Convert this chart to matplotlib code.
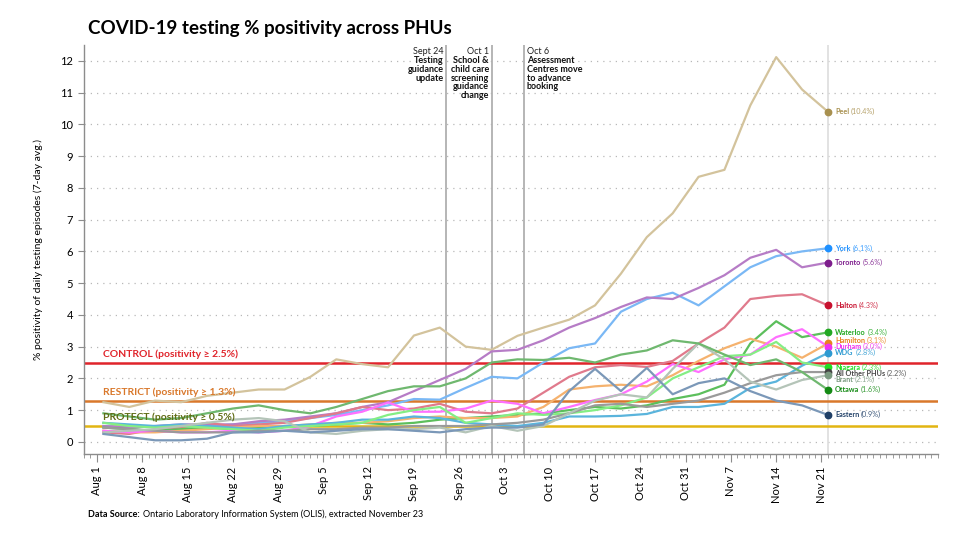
import numpy as np
import pandas as pd
import matplotlib
matplotlib.use('Agg')
import matplotlib.pyplot as plt
import matplotlib.dates as mdates

plt.rcParams['font.family'] = ['Lato', 'DejaVu Sans']

# dates (every 4 days, Aug 2 - Nov 22)
dates = pd.date_range('2020-08-02', '2020-11-22', freq='4D')

# 7-day avg % positivity
peel = [1.25, 1.1, 1.3, 1.25, 1.45, 1.55, 1.65, 1.65, 2.05, 2.6, 2.45, 2.35, 3.35, 3.6, 3.0,
        2.9, 3.34, 3.6, 3.85, 4.3, 5.3, 6.45, 7.2, 8.35, 8.57, 10.6, 12.12, 11.1, 10.4]
york = [0.5, 0.45, 0.5, 0.45, 0.5, 0.55, 0.6, 0.65, 0.75, 0.85, 1.0, 1.15, 1.35, 1.33, 1.7,
        2.05, 2.0, 2.5, 2.95, 3.1, 4.1, 4.5, 4.7, 4.3, 4.9, 5.5, 5.85, 6.0, 6.1]
toronto = [0.5, 0.45, 0.5, 0.55, 0.55, 0.55, 0.65, 0.7, 0.8, 0.9, 1.1, 1.25, 1.6, 1.95, 2.3,
           2.85, 2.9, 3.2, 3.6, 3.9, 4.25, 4.55, 4.5, 4.85, 5.25, 5.8, 6.05, 5.5, 5.65]
halton = [0.3, 0.25, 0.4, 0.45, 0.6, 0.5, 0.55, 0.6, 0.75, 0.9, 1.1, 1.0, 1.05, 1.2, 0.95,
          0.9, 1.05, 1.55, 2.05, 2.35, 2.42, 2.36, 2.55, 3.1, 3.6, 4.5, 4.6, 4.65, 4.3]
waterloo = [0.45, 0.4, 0.35, 0.4, 0.45, 0.4, 0.45, 0.5, 0.5, 0.55, 0.6, 0.55, 0.6, 0.7, 0.75,
            0.8, 0.85, 0.9, 1.0, 1.1, 1.05, 1.15, 1.35, 1.5, 1.8, 3.1, 3.8, 3.3, 3.45]
hamilton = [0.35, 0.3, 0.3, 0.35, 0.4, 0.45, 0.5, 0.5, 0.55, 0.6, 0.6, 0.65, 0.75, 0.8, 0.75,
            0.75, 0.8, 1.1, 1.65, 1.75, 1.8, 1.75, 2.1, 2.55, 2.95, 3.25, 3.0, 2.65, 3.1]
durham = [0.35, 0.3, 0.35, 0.3, 0.3, 0.35, 0.3, 0.35, 0.5, 0.8, 0.95, 1.24, 0.95, 0.95, 1.05,
          1.3, 1.2, 0.9, 1.1, 1.32, 1.5, 1.9, 2.45, 2.2, 2.6, 2.75, 3.3, 3.55, 3.0]
wdg = [0.6, 0.55, 0.5, 0.55, 0.5, 0.45, 0.4, 0.5, 0.55, 0.6, 0.7, 0.7, 0.8, 0.75, 0.6,
       0.55, 0.5, 0.6, 0.8, 0.8, 0.82, 0.88, 1.1, 1.1, 1.2, 1.7, 1.9, 2.4, 2.8]
niagara = [0.6, 0.5, 0.45, 0.5, 0.45, 0.4, 0.35, 0.45, 0.5, 0.55, 0.6, 0.85, 1.0, 1.1, 0.6,
           0.75, 0.9, 0.85, 0.9, 1.0, 1.15, 1.4, 2.0, 2.35, 2.7, 2.75, 3.15, 2.5, 2.35]
all_other = [0.45, 0.4, 0.35, 0.3, 0.3, 0.3, 0.35, 0.35, 0.4, 0.4, 0.45, 0.45, 0.5, 0.5, 0.5,
             0.55, 0.6, 0.7, 0.9, 1.15, 1.2, 1.1, 1.2, 1.3, 1.55, 1.85, 2.1, 2.2, 2.2]
brant = [0.3, 0.35, 0.4, 0.5, 0.6, 0.7, 0.75, 0.65, 0.3, 0.25, 0.35, 0.4, 0.4, 0.45, 0.3,
         0.5, 0.35, 0.5, 0.9, 1.3, 1.5, 1.4, 2.3, 3.1, 2.6, 1.9, 1.65, 1.95, 2.1]
ottawa = [0.9, 0.8, 0.7, 0.75, 0.9, 1.05, 1.15, 1.0, 0.9, 1.1, 1.35, 1.6, 1.75, 1.75, 2.0,
          2.5, 2.6, 2.58, 2.65, 2.5, 2.75, 2.88, 3.2, 3.1, 2.75, 2.42, 2.6, 2.2, 1.64]
eastern = [0.25, 0.15, 0.05, 0.05, 0.1, 0.3, 0.3, 0.35, 0.3, 0.35, 0.4, 0.4, 0.35, 0.3, 0.4,
           0.45, 0.45, 0.55, 1.6, 2.3, 1.6, 2.33, 1.5, 1.85, 2.0, 1.6, 1.3, 1.15, 0.85]

names = ['Peel', 'York', 'Toronto', 'Halton', 'Waterloo', 'Hamilton', 'Durham', 'WDG',
         'Niagara', 'All Other PHUs', 'Brant', 'Ottawa', 'Eastern']
series = [peel, york, toronto, halton, waterloo, hamilton, durham, wdg,
          niagara, all_other, brant, ottawa, eastern]
end_labels = ['10.4', '6.1', '5.6', '4.3', '3.4', '3.1', '3.0', '2.8', '2.3', '2.2', '2.1', '1.6', '0.9']

line_colors = ['#d3c39c', '#7ab8f5', '#b67cc6', '#e07a8c', '#5cbf5c', '#f5b26e', '#ff70ff',
               '#5ab4dc', '#84ee84', '#9a9a9a', '#b4c4b8', '#6fb86f', '#7b98b8']
dot_colors = ['#a8904f', '#1e90ff', '#7d1d8c', '#c8102e', '#22a822', '#e8821e', '#f030f0',
              '#2c9ad1', '#22dd22', '#444444', '#7a9a80', '#158a15', '#1f3f66']
# small vertical nudges so the end labels don't overlap
label_nudge = [0, 0, 0, 0, 0, 0.1, 0, 0.02, 0, -0.04, -0.14, 0, 0]

thresholds = [2.5, 1.3, 0.5]
threshold_text = ['CONTROL (positivity \u2265 2.5%)', 'RESTRICT (positivity \u2265 1.3%)',
                  'PROTECT (positivity \u2265 0.5%)']
threshold_colors = ['#e0242b', '#d9782b', '#e2b512']
threshold_text_colors = ['#e0242b', '#d9782b', '#5f6b14']

events = ['2020-09-24', '2020-10-01', '2020-10-06']
event_dates = ['Sept 24', 'Oct 1', 'Oct 6']
event_text = ['Testing\nguidance\nupdate', 'School &\nchild care\nscreening\nguidance\nchange',
              'Assessment\nCentres move\nto advance\nbooking']

fig = plt.figure(figsize=(9.6, 5.43), dpi=100)
ax = fig.add_axes([0.0875, 0.164, 0.8895, 0.753])

x0, x1 = pd.Timestamp('2020-07-30'), pd.Timestamp('2020-12-09')
ax.set_xlim(x0, x1)
ax.set_ylim(-0.38, 12.5)

for y in range(13):
    ax.axhline(y, color='#b8b8b8', lw=0.9, ls=(0, (1, 4)), zorder=0)

ax.axvline(dates[-1], color='#dddddd', lw=1.2, zorder=1)
for ev in events:
    ax.axvline(pd.Timestamp(ev), color='#b0b0b0', lw=1.3, zorder=1)

for yv, c in zip(thresholds, threshold_colors):
    ax.axhline(yv, color=c, lw=1.8, zorder=2)

for vals, c in zip(series, line_colors):
    ax.plot(dates, vals, color=c, lw=1.6, zorder=3)

for yv, t, c in zip(thresholds, threshold_text, threshold_text_colors):
    ax.text(pd.Timestamp('2020-08-02'), yv + 0.12, t, color=c, fontsize=7.5,
            fontweight='bold', va='bottom', ha='left', zorder=4)

for vals, dc in zip(series, dot_colors):
    ax.plot(dates[-1], vals[-1], 'o', color=dc, ms=4.6, zorder=5)

# end labels: bold name + value
name_texts = []
for vals, n, nudge, dc in zip(series, names, label_nudge, dot_colors):
    t = ax.annotate(n, xy=(dates[-1], vals[-1] + nudge), xytext=(5, 0), textcoords='offset points',
                    fontsize=5.2, fontweight='bold', color=dc, va='center', ha='left')
    name_texts.append(t)

# event annotations
top = 12.45
for ev, d, txt, i in zip(events, event_dates, event_text, range(3)):
    xd = pd.Timestamp(ev)
    if i < 2:
        ha, off = 'right', -2
    else:
        ha, off = 'left', 2
    ax.annotate(d, xy=(xd, top), xytext=(off, 0), textcoords='offset points',
                fontsize=6.5, ha=ha, va='top', color='#222222')
    ax.annotate(txt, xy=(xd, top), xytext=(off, -7), textcoords='offset points',
                fontsize=6.5, ha=ha, va='top', fontweight='bold', color='#111111',
                linespacing=0.95)

# axes styling
for s in ['top', 'right']:
    ax.spines[s].set_visible(False)
for s in ['left', 'bottom']:
    ax.spines[s].set_color('#8c8c8c')
    ax.spines[s].set_linewidth(1.0)

ax.set_yticks(range(13))
ax.tick_params(axis='y', labelsize=8, length=4, color='#8c8c8c', pad=4)
week_ticks = pd.date_range('2020-08-01', '2020-11-21', freq='7D')
ax.set_xticks(week_ticks)
ax.set_xticklabels([f'{d:%b} {d.day}' for d in week_ticks], rotation=90, fontsize=8)
ax.xaxis.set_minor_locator(mdates.DayLocator())
ax.tick_params(axis='x', which='major', length=6, color='#8c8c8c', pad=3)
ax.tick_params(axis='x', which='minor', length=3, color='#8c8c8c')

ax.set_ylabel('% positivity of daily testing episodes (7-day avg.)', fontsize=7.5, labelpad=12)

fig.text(0.0917, 0.948, 'COVID-19 testing % positivity across PHUs', fontsize=13.5,
         fontweight='bold', va='center', ha='left')

src = fig.text(0.0917, 0.053, 'Data Source:', fontsize=6.5, fontweight='bold', va='center')

fig.canvas.draw()
r = fig.canvas.get_renderer()
for t, vals, nudge, lab, dc in zip(name_texts, series, label_nudge, end_labels, dot_colors):
    bb = t.get_window_extent(r)
    fig.text(bb.x1 / fig.dpi / 9.6 + 0.002, (bb.y0 + bb.y1) / 2 / fig.dpi / 5.43, f'({lab}%)',
             fontsize=5.2, color=dc, alpha=0.85, va='center', ha='left')
bb = src.get_window_extent(r)
fig.text(bb.x1 / fig.dpi / 9.6 + 0.003, 0.053,
         'Ontario Laboratory Information System (OLIS), extracted November 23',
         fontsize=6.5, va='center', ha='left')

fig.savefig('out.png', dpi=100)
